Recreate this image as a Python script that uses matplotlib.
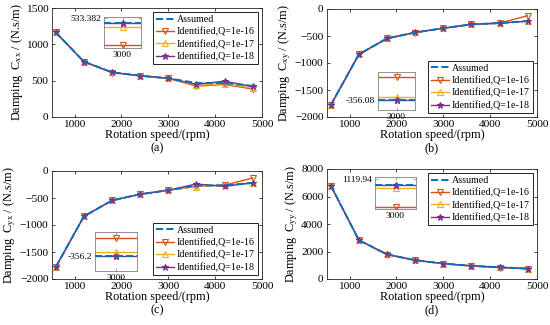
import numpy as np
import matplotlib
matplotlib.use('Agg')
import matplotlib.pyplot as plt

plt.rcParams['font.family'] = ['Liberation Serif', 'DejaVu Serif']
plt.rcParams['mathtext.fontset'] = 'custom'
plt.rcParams['mathtext.rm'] = 'Liberation Serif'
plt.rcParams['mathtext.it'] = 'Liberation Serif:italic'

# rotation speeds (rpm)
speed = [600, 1200, 1800, 2400, 3000, 3600, 4200, 4800]

# damping Cxx
cxx_assumed = [1165, 762, 615, 568, 533.4, 468, 468, 428]
cxx_q16 = [1163, 760, 612, 565, 530, 425, 448, 385]
cxx_q17 = [1164, 761, 614, 567, 532, 438, 458, 400]
cxx_q18 = [1165, 762, 615, 568, 533.4, 450, 493, 420]

# damping Cxy
cxy_assumed = [-1780, -840, -545, -435, -356.08, -285, -262, -225]
cxy_q16 = [-1782, -842, -546, -436, -356, -284, -260, -125]
cxy_q17 = [-1781, -841, -545, -435, -356.07, -285, -262, -223]
cxy_q18 = [-1780, -840, -545, -435, -356.08, -285, -262, -225]

# damping Cyx
cyx_assumed = [-1780, -840, -545, -430, -356.2, -270, -265, -222]
cyx_q16 = [-1782, -842, -546, -431, -356.15, -285, -262, -130]
cyx_q17 = [-1781, -841, -545, -430, -356.19, -290, -255, -225]
cyx_q18 = [-1780, -840, -545, -430, -356.2, -240, -285, -218]

# damping Cyy
cyy_assumed = [6800, 2830, 1790, 1370, 1119.94, 960, 850, 760]
cyy_q16 = [6790, 2820, 1780, 1360, 1119.7, 945, 830, 735]
cyy_q17 = [6795, 2825, 1785, 1365, 1119.87, 955, 845, 750]
cyy_q18 = [6800, 2830, 1790, 1370, 1119.94, 960, 850, 760]

# zoomed values at 3000 rpm (assumed, Q16, Q17, Q18), inset tick
zoom_a = [533.355, 533.226, 533.33, 533.356]
zoom_b = [-356.08, -356.019, -356.073, -356.08]
zoom_c = [-356.2, -356.152, -356.1895, -356.2]
zoom_d = [1119.898, 1119.718, 1119.869, 1119.898]
tick_a, tick_b, tick_c, tick_d = 533.382, -356.08, -356.2, 1119.94

labels = ['Assumed', 'Identified,Q=1e-16', 'Identified,Q=1e-17', 'Identified,Q=1e-18']
c_blue = (0, 0.447, 0.741)
c_org = (0.85, 0.325, 0.098)
c_yel = (0.929, 0.694, 0.125)
c_pur = (0.494, 0.184, 0.556)

fig = plt.figure(figsize=(5.5, 3.25), dpi=100)

W, H = 550.0, 325.0
def box(x0, y0, x1, y1):
    return [x0 / W, 1 - y1 / H, (x1 - x0) / W, (y1 - y0) / H]

panels = [
    dict(pos=box(52, 8, 262, 117), data=(cxx_assumed, cxx_q16, cxx_q17, cxx_q18),
         sub='xx', ylim=(0, 1500), yt=[0, 500, 1000, 1500], loc='upper right',
         ins=box(104, 17, 141, 48), z=zoom_a, zyl=(533.21, 533.39), zt=tick_a, tag='(a)', ty=148),
    dict(pos=box(327, 9, 537, 117), data=(cxy_assumed, cxy_q16, cxy_q17, cxy_q18),
         sub='xy', ylim=(-2000, 0), yt=[-2000, -1500, -1000, -500, 0], loc='lower right',
         ins=box(378, 72, 415, 110), z=zoom_b, zyl=(-356.106, -356.006), zt=tick_b, tag='(b)', ty=148),
    dict(pos=box(52, 171, 262, 279), data=(cyx_assumed, cyx_q16, cyx_q17, cyx_q18),
         sub='yx', ylim=(-2000, 0), yt=[-2000, -1500, -1000, -500, 0], loc='lower right',
         ins=box(95, 232, 137, 271), z=zoom_c, zyl=(-356.2375, -356.1375), zt=tick_c, tag='(c)', ty=310),
    dict(pos=box(327, 169, 537, 279), data=(cyy_assumed, cyy_q16, cyy_q17, cyy_q18),
         sub='yy', ylim=(0, 8000), yt=[0, 2000, 4000, 6000, 8000], loc='upper right',
         ins=box(375, 177, 416, 209), z=zoom_d, zyl=(1119.70, 1119.96), zt=tick_d, tag='(d)', ty=310),
]

def style(ax):
    for s in ax.spines.values():
        s.set_color('0.15')
        s.set_linewidth(0.6)
    ax.tick_params(direction='in', top=True, right=True, length=2.5, width=0.6,
                   colors='0.15', labelcolor='black')

for p in panels:
    ax = fig.add_axes(p['pos'])
    a, q16, q17, q18 = p['data']
    ax.plot(speed, a, '--', color=c_blue, lw=1.4, label=labels[0], zorder=5)
    ax.plot(speed, q16, '-', color=c_org, lw=1.0, marker='v', ms=5, mfc='none', mew=0.8, label=labels[1])
    ax.plot(speed, q17, '-', color=c_yel, lw=1.0, marker='^', ms=5, mfc='none', mew=0.8, label=labels[2])
    ax.plot(speed, q18, '-', color=c_pur, lw=1.0, marker='*', ms=5, mfc=c_pur, mew=0.8, label=labels[3])
    ax.set_xlim(520, 5000)
    ax.set_xticks([1000, 2000, 3000, 4000, 5000])
    ax.set_ylim(*p['ylim'])
    ax.set_yticks(p['yt'])
    style(ax)
    ax.tick_params(labelsize=8.2, pad=2.5)
    ax.set_xlabel('Rotation speed/(rpm)', fontsize=8.8, labelpad=0)
    ax.set_ylabel('Damping  C$_{\\mathrm{%s}}$ / (N.s/m)' % p['sub'], fontsize=8.8, labelpad=1)
    leg = ax.legend(loc=p['loc'], fontsize=7.2, frameon=True, fancybox=False, framealpha=1,
                    edgecolor='black', handlelength=1.8, handletextpad=0.3,
                    borderpad=0.3, labelspacing=0.3, borderaxespad=0.4)
    leg.get_frame().set_linewidth(0.6)
    pos = p['pos']
    fig.text(pos[0] + pos[2] / 2, 1 - p['ty'] / H, p['tag'], ha='center', va='center', fontsize=8.8)

    # zoom inset near 3000 rpm
    ia = fig.add_axes(p['ins'])
    za, z16, z17, z18 = p['z']
    ia.axhline(z16, color=c_org, lw=1.0)
    ia.plot([3000], [z16], marker='v', ms=5, mfc='none', mec=c_org, mew=0.8, ls='none')
    ia.axhline(z17, color=c_yel, lw=1.0)
    ia.plot([3000], [z17], marker='^', ms=5, mfc='none', mec=c_yel, mew=0.8, ls='none')
    ia.axhline(z18, color=c_pur, lw=1.0)
    ia.plot([3000], [z18], marker='*', ms=5, color=c_pur, ls='none')
    ia.axhline(za, color=c_blue, lw=1.4, ls='--', zorder=5)
    ia.set_xlim(2999, 3001)
    ia.set_ylim(*p['zyl'])
    ia.set_xticks([3000])
    ia.set_yticks([p['zt']])
    ia.set_xticklabels(['3000'])
    ia.set_yticklabels([('%g' % p['zt'])])
    for s in ia.spines.values():
        s.set_color('0.5')
        s.set_linewidth(0.6)
    ia.tick_params(direction='in', length=2, width=0.5, labelsize=6.8, pad=2,
                   top=True, right=True, colors='0.5', labelcolor='black')

fig.savefig('out.png', dpi=100)
